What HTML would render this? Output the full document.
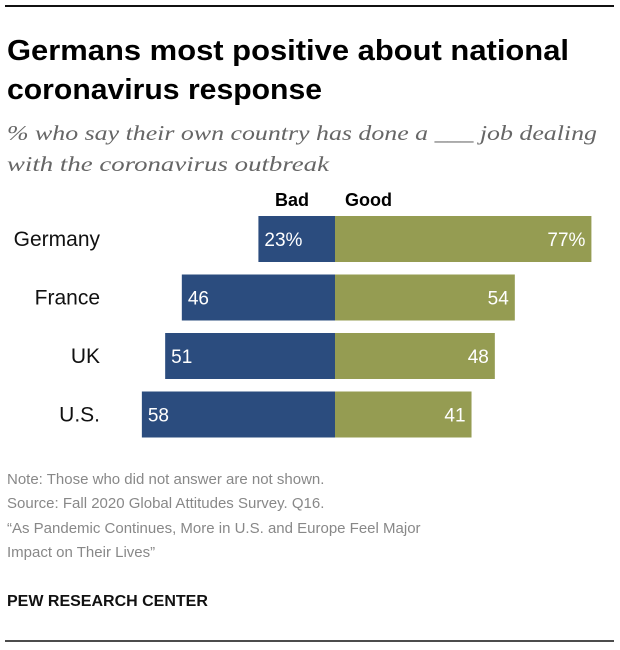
<!DOCTYPE html>
<html><head><meta charset="utf-8"><style>
body{margin:0;background:#fff;}
svg{display:block;font-family:"Liberation Sans",Arial,sans-serif;}
</style></head><body>
<svg id="chart" width="620" height="650" viewBox="0 0 620 650">
<line x1="5" y1="6" x2="614" y2="6" stroke="#111" stroke-width="2"/>
<text x="7" y="60" font-size="29" font-weight="bold" fill="#000" textLength="562" lengthAdjust="spacingAndGlyphs">Germans most positive about national</text>
<text x="7" y="99" font-size="29" font-weight="bold" fill="#000" textLength="315" lengthAdjust="spacingAndGlyphs">coronavirus response</text>
<text x="7" y="140" font-size="21" font-style="italic" fill="#666" font-family="Liberation Serif,serif" textLength="590" lengthAdjust="spacingAndGlyphs">% who say their own country has done a ___ job dealing</text>
<text x="7" y="171" font-size="21" font-style="italic" fill="#666" font-family="Liberation Serif,serif" textLength="322" lengthAdjust="spacingAndGlyphs">with the coronavirus outbreak</text>
<text x="275" y="206" font-size="18" font-weight="bold" fill="#000">Bad</text>
<text x="345" y="206" font-size="18" font-weight="bold" fill="#000">Good</text>
<g id="bars"></g>
<text x="7" y="484" font-size="15" fill="#888">Note: Those who did not answer are not shown.</text>
<text x="7" y="508" font-size="15" fill="#888">Source: Fall 2020 Global Attitudes Survey. Q16.</text>
<text x="7" y="533" font-size="15" fill="#888">“As Pandemic Continues, More in U.S. and Europe Feel Major</text>
<text x="7" y="557" font-size="15" fill="#888">Impact on Their Lives”</text>
<text x="7" y="606" font-size="16" font-weight="bold" fill="#111">PEW RESEARCH CENTER</text>
<line x1="5" y1="641" x2="614" y2="641" stroke="#111" stroke-width="1.5"/>
</svg>
<script>
const countries=["Germany","France","UK","U.S."];
const badValues=[23,46,51,58];
const goodValues=[77,54,48,41];
const badLabels=["23%","46","51","58"];
const goodLabels=["77%","54","48","41"];
const cx=335, k=3.33, top0=216, step=58.5, bh=46;
const x=v=>v*k;
const y=i=>top0+i*step;
const g=document.getElementById('bars');
const NS='http://www.w3.org/2000/svg';
function mk(t,a){const e=document.createElementNS(NS,t);for(const n in a)e.setAttribute(n,a[n]);g.appendChild(e);return e;}
countries.forEach((c,i)=>{
  const yy=y(i);
  const lab=mk('text',{x:100,y:yy+bh/2+7,'font-size':21,fill:'#111','text-anchor':'end'});
  lab.textContent=c;
  
  
  const b=mk('rect',{x:cx-x(badValues[i]),y:yy,width:x(badValues[i]),height:bh,fill:'#2b4c7e'});
  
  
  const gd=mk('rect',{x:cx,y:yy,width:x(goodValues[i]),height:bh,fill:'#959c52'});
  
  
  const bl=mk('text',{x:cx-x(badValues[i])+6,y:yy+bh/2+7,'font-size':19,fill:'#fff'});
  bl.textContent=badLabels[i];
  
  
  const gl=mk('text',{x:cx+x(goodValues[i])-6,y:yy+bh/2+7,'font-size':19,fill:'#fff','text-anchor':'end'});
  gl.textContent=goodLabels[i];
  
  
});
</script>
</body></html>
